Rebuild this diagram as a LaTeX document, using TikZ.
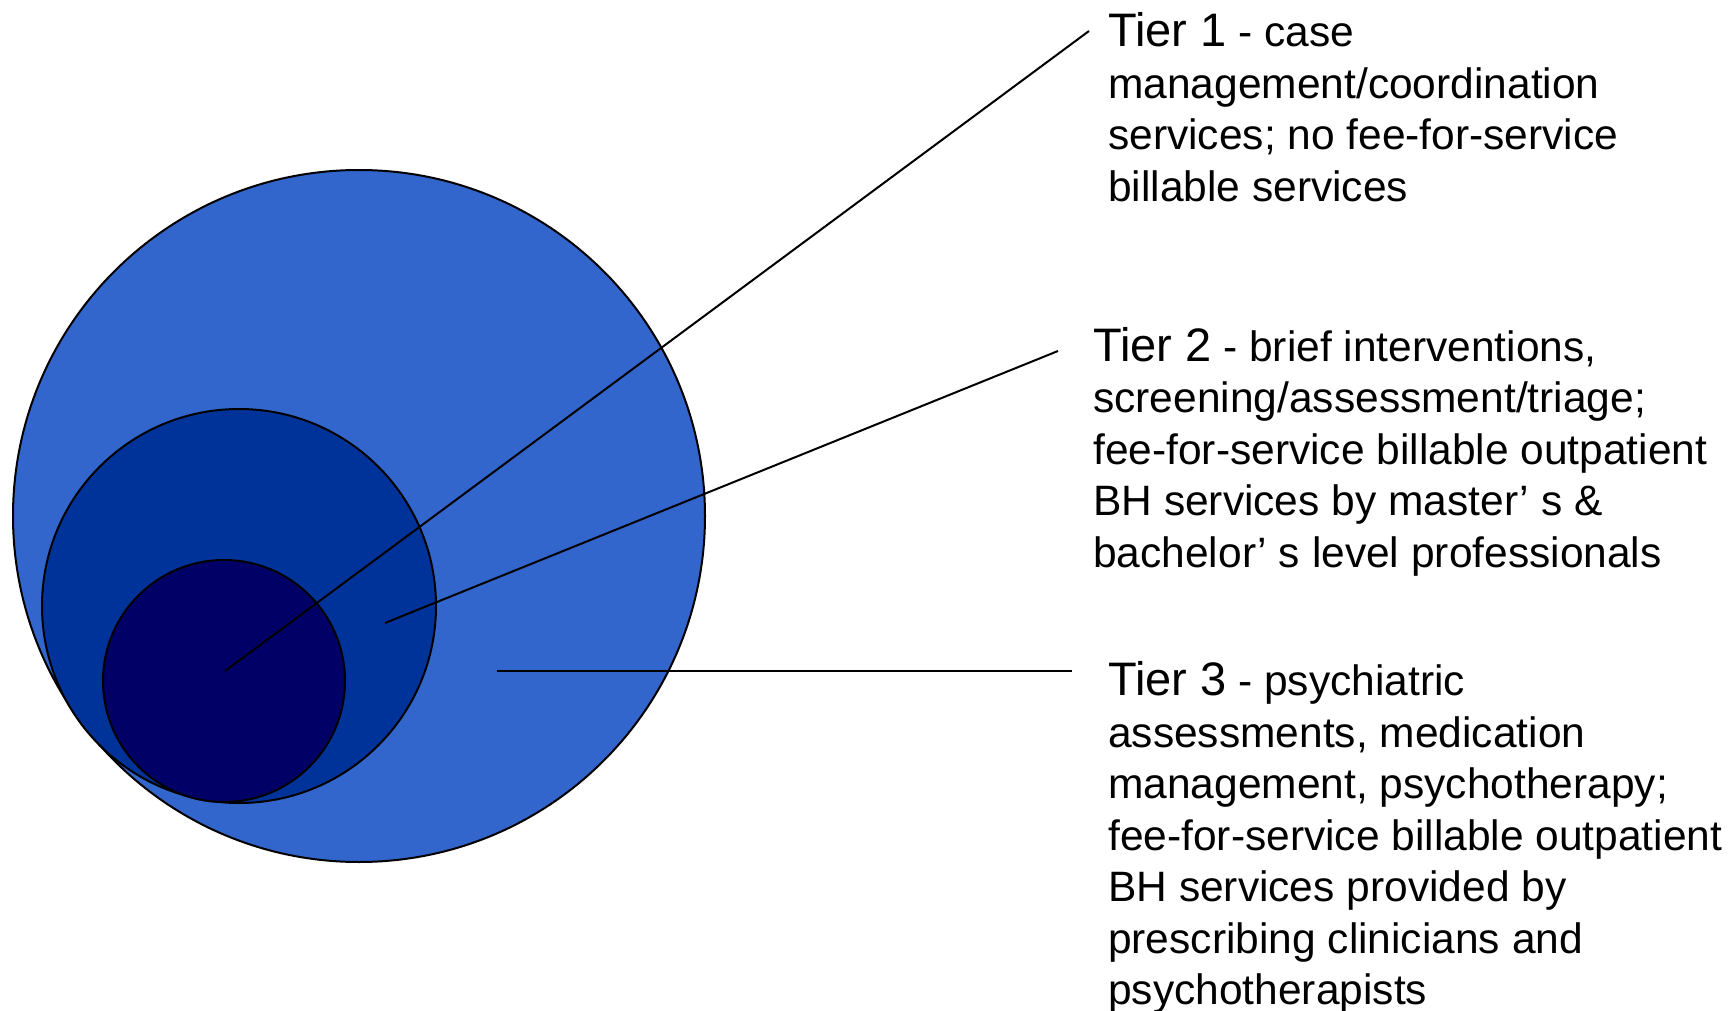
\documentclass[tikz,border=0pt]{standalone}
\usepackage{fontspec}
\setmainfont{Liberation Sans}
\definecolor{outerblue}{RGB}{51,102,204}
\definecolor{midblue}{RGB}{0,51,153}
\definecolor{innerblue}{RGB}{0,0,102}
\newcommand{\tiername}[1]{{\fontsize{47}{51.5}\selectfont #1}}
\tikzset{
  ring/.style={circle, draw=black, line width=2pt, inner sep=0pt, minimum size=#1},
  lead/.style={black, line width=2pt},
  tiertext/.style={anchor=base west, align=left, inner sep=0pt,
    font=\fontsize{42.5}{51.5}\selectfont}
}
\begin{document}
\begin{tikzpicture}[x=1pt,y=-1pt]
\useasboundingbox (0,0) rectangle (1733,1011);
\node[ring=692pt, fill=outerblue] (outer) at (359,516) {};
\node[ring=394pt, fill=midblue] (middle) at (239,606) {};
\node[ring=242pt, fill=innerblue] (inner) at (224,681) {};
\node[tiertext] (tierone) at (1108,201.2) {\tiername{Tier 1} - case\\
  management/coordination\\
  services; no fee-for-service\\
  billable services};
\node[tiertext] (tiertwo) at (1093,567.2) {\tiername{Tier 2} - brief interventions,\\
  screening/assessment/triage;\\
  fee-for-service billable outpatient\\
  BH services by master’ s \&\\
  bachelor’ s level professionals};
\node[tiertext] (tierthree) at (1108,1004.5) {\tiername{Tier 3} - psychiatric\\
  assessments, medication\\
  management, psychotherapy;\\
  fee-for-service billable outpatient\\
  BH services provided by\\
  prescribing clinicians and\\
  psychotherapists};
\coordinate (pin1) at (225,671);
\coordinate (pin2) at (385,623);
\coordinate (pin3) at (497,671);
\coordinate (end1) at (1089,31);
\coordinate (end2) at (1058,351);
\coordinate (end3) at (1072,671);
\draw[lead] (pin1) -- (end1);
\draw[lead] (pin2) -- (end2);
\draw[lead] (pin3) -- (end3);
\end{tikzpicture}
\end{document}
